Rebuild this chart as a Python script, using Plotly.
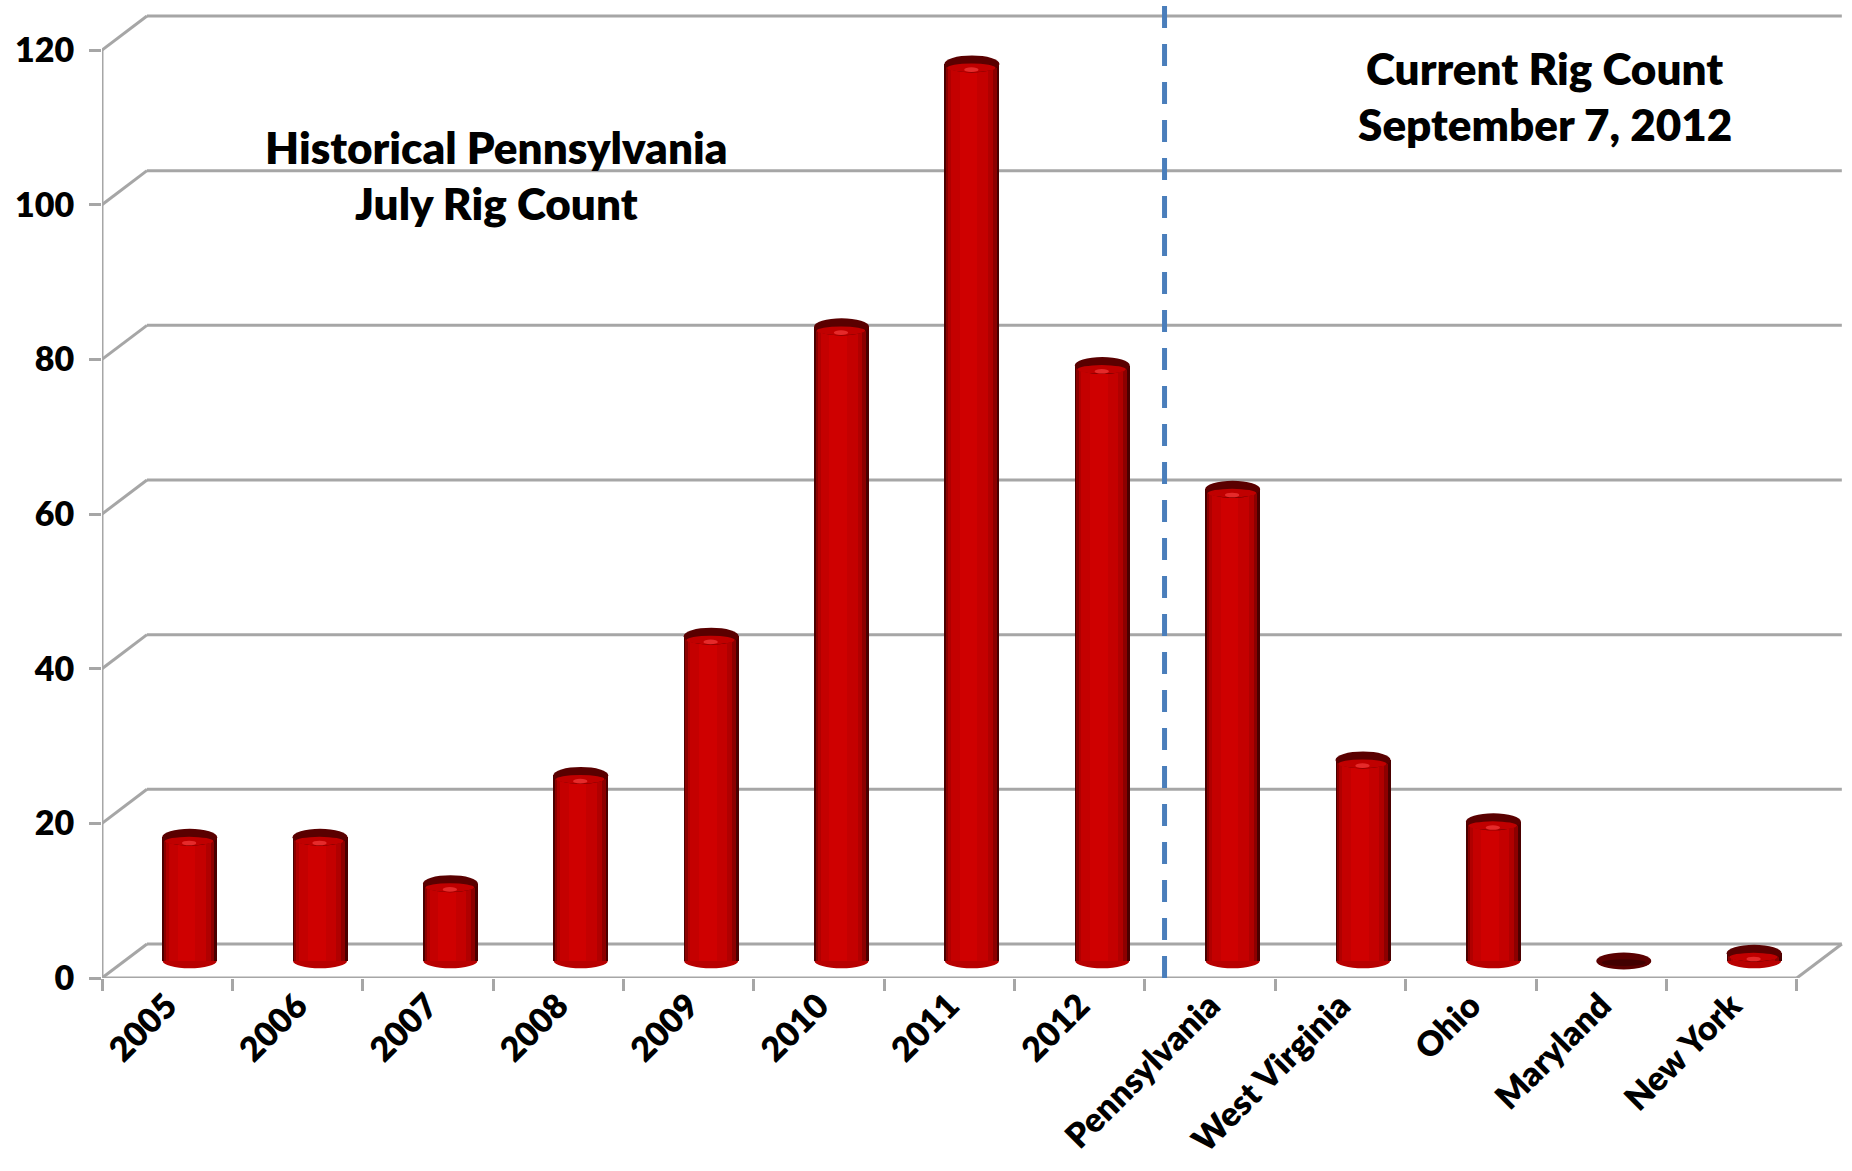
import plotly.graph_objects as go

# ---------------- data ----------------
categories = ["2005", "2006", "2007", "2008", "2009", "2010", "2011", "2012",
              "Pennsylvania", "West Virginia", "Ohio", "Maryland", "New York"]
rig_counts = [16, 16, 10, 24, 42, 82, 116, 77, 61, 26, 18, 0, 1]
y_ticks = [0, 20, 40, 60, 80, 100, 120]
left_title = ["Historical Pennsylvania", "July Rig Count"]
right_title = ["Current Rig Count", "September 7, 2012"]

# ---------------- style constants ----------------
FONT = "Lato"
WEIGHT = 800
GRID = "#a6a6a6"
DEPTH_X = 0.345      # oblique depth offset (category units)
DEPTH_Y = 4.4        # oblique depth offset (value units)
BASE = DEPTH_Y / 2   # bars stand in the middle of the depth
BAR_W = 0.422
SHIFT = DEPTH_X / 2
CAP_H = 1.1
Y_TOP = 126.47
DIVIDER_X = 7.65

n = len(categories)
x_lo, x_hi = -0.5, n - 0.5

# cylinder shading: stacked overlay bars (fraction start, fraction end, colour)
layers = [(0.00, 1.00, "#4a0000"),
          (0.03, 0.95, "#8c0000"),
          (0.07, 0.88, "#b00000"),
          (0.12, 0.79, "#c40000"),
          (0.28, 0.60, "#cf0000")]

fig = go.Figure()
for a, b, col in layers:
    fig.add_trace(go.Bar(
        x=categories, y=rig_counts, base=BASE,
        width=BAR_W * (b - a), offset=SHIFT - BAR_W / 2 + BAR_W * a,
        marker=dict(color=col, line=dict(width=0)),
        hoverinfo="skip", showlegend=False))

shapes = []
# back wall gridlines + connecting diagonals
for t in y_ticks:
    shapes.append(dict(type="line", xref="x", yref="y", layer="below",
                       x0=x_lo + DEPTH_X, x1=x_hi + DEPTH_X, y0=t + DEPTH_Y, y1=t + DEPTH_Y,
                       line=dict(color=GRID, width=3)))
    shapes.append(dict(type="line", xref="x", yref="y", layer="below",
                       x0=x_lo, x1=x_lo + DEPTH_X, y0=t, y1=t + DEPTH_Y,
                       line=dict(color=GRID, width=3)))
# floor front edge, right floor edge, front vertical axis
shapes.append(dict(type="line", xref="x", yref="y", layer="below",
                   x0=x_lo, x1=x_hi, y0=0, y1=0, line=dict(color=GRID, width=3)))
shapes.append(dict(type="line", xref="x", yref="y", layer="below",
                   x0=x_hi, x1=x_hi + DEPTH_X, y0=0, y1=DEPTH_Y, line=dict(color=GRID, width=3)))
shapes.append(dict(type="line", xref="x", yref="y", layer="below",
                   x0=x_lo, x1=x_lo, y0=0, y1=max(y_ticks), line=dict(color=GRID, width=3)))

# bottom ellipses and top caps of the cylinders
for i, v in enumerate(rig_counts):
    cx0 = i + SHIFT - BAR_W / 2
    cx1 = i + SHIFT + BAR_W / 2
    top = BASE + v
    shapes.append(dict(type="circle", xref="x", yref="y", layer="below",
                       x0=cx0 + 0.004, x1=cx1 - 0.004, y0=BASE - CAP_H * 0.85, y1=BASE + CAP_H * 0.85,
                       fillcolor="#b80000", line=dict(width=0)))
    shapes.append(dict(type="circle", xref="x", yref="y", layer="above",
                       x0=cx0, x1=cx1, y0=top - CAP_H, y1=top + CAP_H,
                       fillcolor="#5a0000", line=dict(width=0)))
    if v > 0:
        shapes.append(dict(type="circle", xref="x", yref="y", layer="above",
                           x0=cx0 + BAR_W * 0.05, x1=cx1 - BAR_W * 0.07,
                           y0=top - CAP_H * 0.95, y1=top + CAP_H * 0.05,
                           fillcolor="#c00000", line=dict(width=0)))
        shapes.append(dict(type="circle", xref="x", yref="y", layer="above",
                           x0=cx0 + BAR_W * 0.36, x1=cx0 + BAR_W * 0.62,
                           y0=top - CAP_H * 0.95, y1=top - CAP_H * 0.40,
                           fillcolor="#e52a2a", line=dict(width=0)))
    else:
        shapes.append(dict(type="circle", xref="x", yref="y", layer="above",
                           x0=cx0 + BAR_W * 0.1, x1=cx1 - BAR_W * 0.1,
                           y0=top - CAP_H * 0.6, y1=top + CAP_H * 0.2,
                           fillcolor="#420000", line=dict(width=0)))

# dashed divider
shapes.append(dict(type="line", xref="x", yref="paper", layer="above",
                   x0=DIVIDER_X, x1=DIVIDER_X, y0=0, y1=1,
                   line=dict(color="#4a7ebb", width=5, dash="22px,16px")))

annotations = []
for txt, yy in zip(left_title, [107.5, 100.2]):
    annotations.append(dict(x=2.524, y=yy, xref="x", yref="y", text=txt, showarrow=False,
                            xanchor="center", yanchor="middle",
                            font=dict(family=FONT, size=44, color="black", weight=WEIGHT)))
for txt, yy in zip(right_title, [117.7, 110.5]):
    annotations.append(dict(x=10.568, y=yy, xref="x", yref="y", text=txt, showarrow=False,
                            xanchor="center", yanchor="middle",
                            font=dict(family=FONT, size=44, color="black", weight=WEIGHT)))

fig.update_layout(
    width=1852, height=1171,
    margin=dict(l=102, r=3, t=0, b=193),
    paper_bgcolor="white", plot_bgcolor="white",
    barmode="overlay", bargap=0,
    shapes=shapes, annotations=annotations,
    xaxis=dict(type="category", range=[x_lo, x_hi + 0.4], tickson="boundaries",
               showgrid=False, zeroline=False, showline=False,
               ticks="outside", ticklen=12, tickwidth=3, tickcolor=GRID,
               tickangle=-45,
               tickfont=dict(family=FONT, size=34, color="black", weight=WEIGHT)),
    yaxis=dict(range=[0, Y_TOP], tickmode="array", tickvals=y_ticks,
               ticktext=[str(t) for t in y_ticks],
               showgrid=False, zeroline=False, showline=False,
               ticks="outside", ticklen=12, tickwidth=3, tickcolor=GRID,
               ticklabelstandoff=8,
               tickfont=dict(family=FONT, size=34, color="black", weight=WEIGHT)),
)

fig.write_html("out.html")
